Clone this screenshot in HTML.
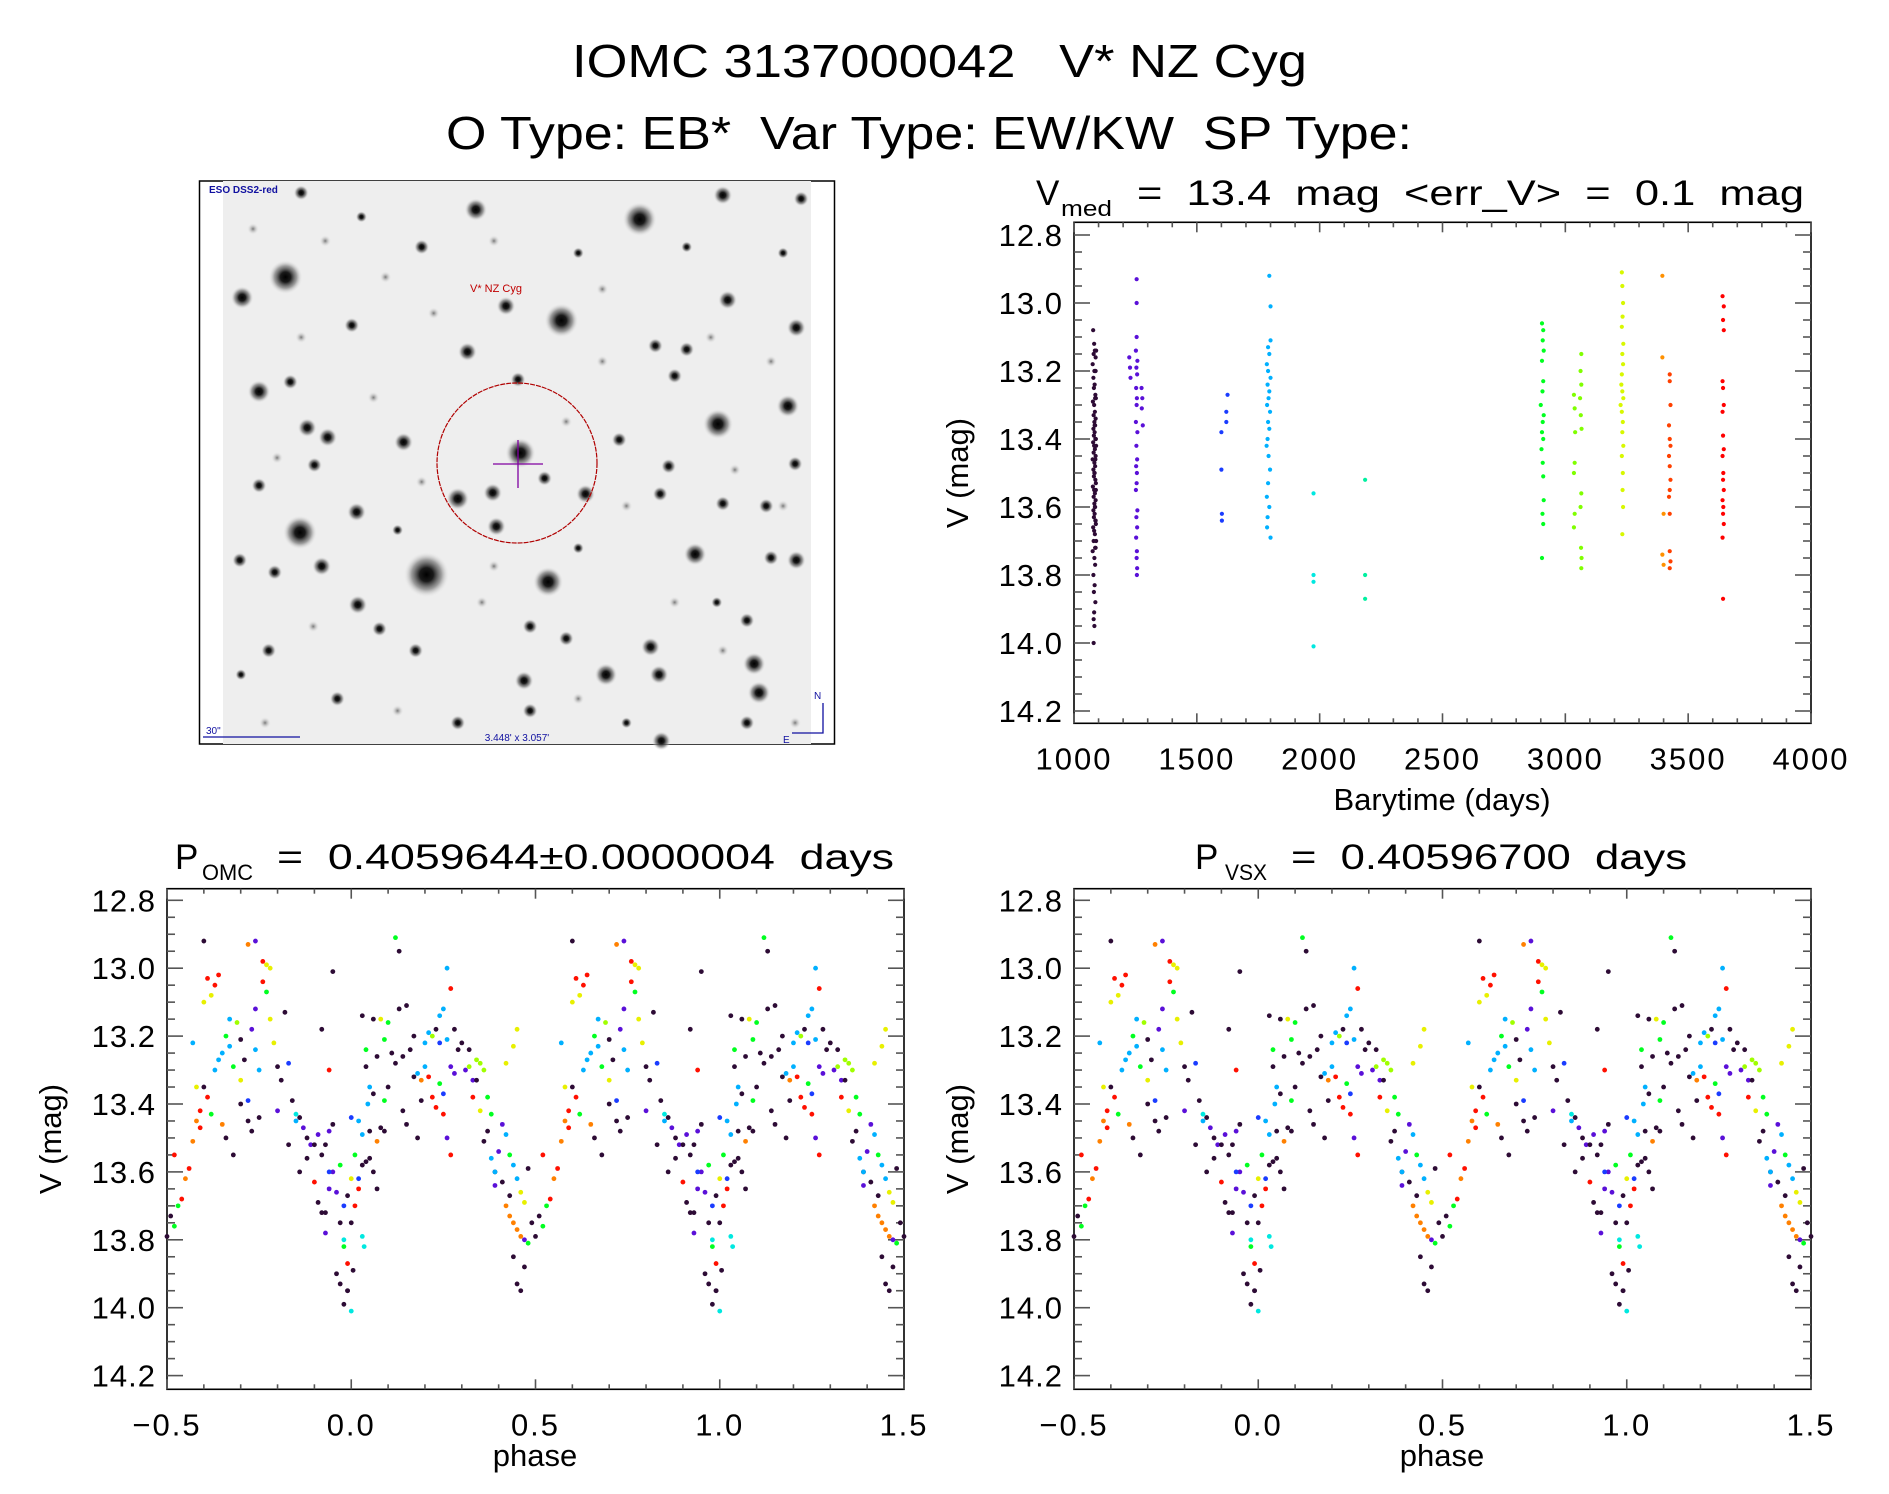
<!DOCTYPE html>
<html><head><meta charset="utf-8"><style>
html,body{margin:0;padding:0;background:#fff;}
svg{display:block;font-family:"Liberation Sans","DejaVu Sans",sans-serif;}
svg text{white-space:pre;}
</style></head><body>
<svg id="fig" width="1889" height="1494" viewBox="0 0 1889 1494" xmlns="http://www.w3.org/2000/svg" xml:space="preserve">
<defs>
<radialGradient id="star"><stop offset="0" stop-color="#000"/><stop offset="0.3" stop-color="#1a1a1a"/><stop offset="0.65" stop-color="#777" stop-opacity="0.7"/><stop offset="1" stop-color="#eee" stop-opacity="0"/></radialGradient>
<radialGradient id="faint"><stop offset="0" stop-color="#777"/><stop offset="1" stop-color="#eee" stop-opacity="0"/></radialGradient>
</defs>
<text x="572" y="77" font-size="46" textLength="735" lengthAdjust="spacingAndGlyphs">IOMC 3137000042   V* NZ Cyg</text>
<text x="446" y="149" font-size="46" textLength="966" lengthAdjust="spacingAndGlyphs">O Type: EB*  Var Type: EW/KW  SP Type:</text>

<g>
<rect x="199.5" y="181" width="635" height="563" fill="#fff" stroke="#000" stroke-width="1.5"/>
<rect x="223" y="181" width="588" height="563" fill="#eeeeee"/>
<g id="stars"></g>
<text x="209" y="193" font-size="10" fill="#1010a0" font-weight="bold">ESO DSS2-red</text>
<text x="470" y="292" font-size="11" fill="#c00000">V* NZ Cyg</text>
<circle cx="517" cy="463" r="80" fill="none" stroke="#b00000" stroke-width="1.2" stroke-dasharray="5,1"/>
<line x1="493" y1="464" x2="543" y2="464" stroke="#8000a0" stroke-width="1.3"/>
<line x1="518" y1="440" x2="518" y2="488" stroke="#8000a0" stroke-width="1.3"/>
<line x1="203" y1="737" x2="300" y2="737" stroke="#1010a0" stroke-width="1.3"/>
<text x="206" y="734" font-size="10" fill="#1010a0">30"</text>
<text x="517" y="741" font-size="10" fill="#1010a0" text-anchor="middle">3.448' x 3.057'</text>
<path d="M823 703 V733 H792" fill="none" stroke="#1010a0" stroke-width="1.3"/>
<text x="814" y="699" font-size="10" fill="#1010a0">N</text>
<text x="783" y="743" font-size="10" fill="#1010a0">E</text>
</g>

<g>
<text x="1036" y="205" font-size="35">V</text>
<text x="1061" y="216" font-size="22" textLength="51" lengthAdjust="spacingAndGlyphs">med</text>
<text x="1137" y="205" font-size="35" textLength="667" lengthAdjust="spacingAndGlyphs">=  13.4  mag  &lt;err_V&gt;  =  0.1  mag</text>
<g id="tsAxes"></g><g id="tsPts"></g>
<text x="1442" y="810" font-size="31" text-anchor="middle">Barytime (days)</text>
<text transform="translate(968,473) rotate(-90)" font-size="31" text-anchor="middle">V (mag)</text>
</g>

<g>
<text x="175" y="869" font-size="35">P</text>
<text x="202" y="880" font-size="22" textLength="51" lengthAdjust="spacingAndGlyphs">OMC</text>
<text x="277" y="869" font-size="35" textLength="617" lengthAdjust="spacingAndGlyphs">=  0.4059644±0.0000004  days</text>
<g id="omcAxes"></g><g id="omcPts"></g>
<text x="535" y="1466" font-size="31" text-anchor="middle">phase</text>
<text transform="translate(61,1139) rotate(-90)" font-size="31" text-anchor="middle">V (mag)</text>
</g>

<g>
<text x="1195" y="869" font-size="35">P</text>
<text x="1225" y="880" font-size="22" textLength="42" lengthAdjust="spacingAndGlyphs">VSX</text>
<text x="1291" y="869" font-size="35" textLength="396" lengthAdjust="spacingAndGlyphs">=  0.40596700  days</text>
<g id="vsxAxes"></g><g id="vsxPts"></g>
<text x="1442" y="1466" font-size="31" text-anchor="middle">phase</text>
<text transform="translate(968,1139) rotate(-90)" font-size="31" text-anchor="middle">V (mag)</text>
</g>
</svg>
<script>
// ---- time series data ----
const tData = [1078,1082,1085,1080,1088,1076,1083,1086,1079,1084,1081,1087,1089,1077,1082,1085,1080,1088,1083,1086,1079,1084,1081,1087,1089,1078,1082,1085,1080,1088,1076,1083,1086,1079,1084,1081,1087,1089,1077,1082,1085,1080,1088,1083,1086,1079,1084,1081,1087,1089,1078,1082,1085,1080,1088,1076,1083,1086,1079,1084,1081,1087,1082,1080,1083,1080,1090,1088,1086,1084,1090,1087,1083,1089,1085,1088,1090,1086,
1225,1228,1230,1255,1255,1255,1252,1258,1254,1257,1253,1256,1255,1252,1258,1254,1257,1253,1256,1255,1252,1258,1254,1257,1253,1256,1255,1257,1256,1275,1278,1276,1280,
1625,1620,1620,1600,1600,1602,1602,
1795,1800,1800,1790,1795,1785,1790,1800,1788,1795,1792,1786,1798,1790,1795,1788,1784,1792,1798,1790,1785,1795,1788,1786,1800,
1975,1975,1975,1975,
2185,2185,2185,
2905,2910,2908,2912,2905,2910,2907,2900,2912,2908,2905,2910,2903,2908,2910,2912,2907,2910,2905,
3035,3038,3040,3038,3035,3038,3035,3065,3062,3065,3060,3063,3066,3065,3062,3064,3066,3065,
3230,3232,3235,3233,3230,3236,3232,3235,3230,3228,3232,3236,3225,3230,3234,3232,3236,3230,3234,3233,3235,3232,
3395,3395,3400,3395,3400,
3425,3425,3428,3422,3425,3428,3422,3425,3428,3425,3422,3425,3425,3428,3425,
3640,3645,3642,3645,3640,3642,3645,3640,3642,3645,3640,3643,3642,3645,3640,3643,3642,3645,3640,3642];
const vData = [13.08,13.12,13.14,13.15,13.16,13.18,13.20,13.20,13.22,13.24,13.25,13.27,13.28,13.29,13.30,13.32,13.33,13.34,13.35,13.36,13.37,13.38,13.39,13.40,13.40,13.41,13.42,13.43,13.44,13.45,13.46,13.47,13.48,13.49,13.50,13.51,13.52,13.53,13.54,13.55,13.56,13.57,13.58,13.59,13.60,13.61,13.62,13.63,13.64,13.65,13.66,13.67,13.68,13.70,13.72,13.73,13.75,13.77,13.80,13.83,13.85,13.88,13.91,13.93,13.95,14.00,13.14,13.20,13.28,13.36,13.42,13.46,13.50,13.55,13.60,13.64,13.70,13.72,
13.16,13.19,13.22,12.93,13.00,13.10,13.14,13.17,13.19,13.21,13.25,13.28,13.30,13.35,13.38,13.42,13.46,13.48,13.50,13.53,13.55,13.61,13.63,13.66,13.69,13.73,13.75,13.78,13.80,13.25,13.28,13.31,13.36,
13.27,13.32,13.35,13.38,13.49,13.62,13.64,
12.92,13.01,13.11,13.13,13.15,13.18,13.20,13.22,13.24,13.26,13.28,13.30,13.32,13.35,13.37,13.40,13.42,13.45,13.49,13.53,13.57,13.60,13.63,13.66,13.69,
13.56,13.80,13.82,14.01,
13.52,13.80,13.87,
13.06,13.08,13.11,13.14,13.17,13.23,13.26,13.30,13.33,13.35,13.38,13.40,13.43,13.47,13.51,13.58,13.62,13.65,13.75,
13.27,13.31,13.38,13.47,13.50,13.62,13.66,13.15,13.20,13.24,13.28,13.33,13.37,13.56,13.60,13.72,13.75,13.78,
12.91,12.95,13.00,13.04,13.07,13.12,13.15,13.18,13.21,13.24,13.26,13.28,13.30,13.32,13.35,13.38,13.42,13.45,13.50,13.55,13.60,13.68,
12.92,13.16,13.62,13.74,13.77,
13.21,13.23,13.30,13.36,13.40,13.42,13.45,13.48,13.52,13.55,13.57,13.62,13.73,13.76,13.78,
12.98,13.01,13.05,13.08,13.23,13.25,13.30,13.32,13.39,13.43,13.45,13.50,13.52,13.55,13.58,13.60,13.62,13.65,13.69,13.87];
const seasonCounts = [78,33,7,25,4,3,19,18,22,5,15,20];
const seasonColors = ['#2d0b35','#5a10d8','#1a3cff','#00b0ff','#00e8e0','#00f0a0','#00ff20','#80ff00','#d8f800','#ff9000','#ff4000','#ff0000'];
const xTickLabels = ['1000','1500','2000','2500','3000','3500','4000'];
const yTickLabels = ['12.8','13.0','13.2','13.4','13.6','13.8','14.0','14.2'];
const phaseTickLabels = ['\u22120.5','0.0','0.5','1.0','1.5'];

// ---- phased data (phase in [0,1), magnitude, colour code) ----
const phaseData = [0.00,0.99,0.005,0.99,0.98,0.98,0.03,0.035,0.0,0.02,0.03,0.04,0.05,0.06,0.07,0.05,0.07,0.08,0.06,0.09,0.04,0.05,0.07,0.09,0.10,0.08,0.04,0.02,0.01,0.0,0.03,0.0,0.045,0.06,0.03,0.10,0.09,0.11,
0.12,0.13,0.14,0.15,0.16,0.17,0.18,0.19,0.17,0.20,0.21,0.22,0.23,0.21,0.22,0.24,0.25,0.24,0.20,0.18,0.19,0.23,0.24,0.25,0.26,0.27,0.26,0.27,0.28,0.25,0.26,0.27,0.28,0.29,0.15,0.14,
0.30,0.31,0.32,0.33,0.34,0.35,0.36,0.37,0.38,0.33,0.35,0.36,0.38,0.39,0.40,0.41,0.42,0.43,0.44,0.45,0.46,0.47,0.48,0.42,0.43,0.44,0.45,0.46,0.47,0.47,0.45,0.46,0.50,0.49,0.51,0.39,0.41,0.43,0.44,0.48,0.42,0.44,0.45,0.39,0.37,0.34,0.32,
0.52,0.53,0.54,0.55,0.56,0.52,0.57,0.58,0.59,0.60,0.61,0.62,0.63,0.64,0.65,0.66,0.67,0.68,0.69,0.70,0.71,0.72,0.73,0.74,0.74,0.75,0.76,0.77,0.78,0.76,0.77,0.78,0.79,0.80,0.81,0.60,0.62,0.63,0.61,0.64,0.59,0.58,0.57,0.65,0.66,0.68,0.70,0.72,0.73,0.75,0.60,0.72,0.74,0.67,0.70,
0.82,0.83,0.84,0.85,0.86,0.87,0.88,0.89,0.90,0.91,0.92,0.93,0.94,0.90,0.91,0.92,0.93,0.94,0.95,0.96,0.97,0.98,0.98,0.96,0.97,0.99,0.93,0.95,0.94,0.95,0.92,0.80,0.83,0.86,0.88,0.99,0.97,0.94,0.85,0.02,0.01,0.12,0.13];
const phaseMag = [14.01,13.87,13.89,13.95,13.99,13.80,13.79,13.82,13.75,13.62,13.58,13.57,13.56,13.60,13.65,13.48,13.51,13.47,13.37,13.39,13.29,13.35,13.26,13.21,13.16,13.15,13.24,13.45,13.55,13.62,13.49,13.44,13.40,13.15,13.14,13.35,13.48,13.25,
13.28,13.12,13.26,13.46,13.24,13.20,13.50,13.33,13.32,13.22,13.19,13.20,13.18,13.32,13.38,13.14,13.12,13.22,13.29,13.31,13.39,13.41,13.34,13.37,13.00,13.06,13.21,13.29,13.31,13.43,13.50,13.55,13.18,13.24,13.11,13.42,
13.22,13.30,13.29,13.33,13.27,13.28,13.30,13.38,13.43,13.38,13.42,13.51,13.56,13.60,13.54,13.46,13.49,13.55,13.58,13.62,13.66,13.69,13.59,13.70,13.73,13.75,13.77,13.79,13.80,13.88,13.93,13.95,13.79,13.75,13.73,13.64,13.63,13.67,13.85,13.81,13.28,13.23,13.18,13.60,13.48,13.33,13.24,
13.76,13.70,13.68,13.62,13.59,13.55,13.51,13.45,13.42,13.35,13.38,13.43,13.30,13.27,13.25,13.20,13.23,13.29,13.16,13.21,13.27,13.39,13.18,13.12,13.24,13.30,12.98,12.99,13.00,13.04,13.07,13.15,13.22,13.29,13.33,13.10,13.08,13.05,13.03,13.02,13.47,13.35,13.22,13.46,13.50,13.55,13.40,13.45,13.48,13.44,12.92,12.93,12.92,13.15,13.33,
13.13,13.28,13.39,13.45,13.44,13.47,13.50,13.52,13.52,13.49,13.55,13.52,13.48,13.63,13.69,13.72,13.78,13.65,13.60,13.66,13.58,13.70,13.82,13.90,13.93,13.95,13.72,13.46,13.30,13.01,13.18,13.42,13.52,13.60,13.56,13.67,13.75,13.60,13.43,13.65,13.70,12.91,12.95];
const phaseCode = 'trkkktttkbkkkkkkokkgkckggygcgycbckkkk'+'k'+
'kkkkkkkokcclkrrccbcckrgbcrcpprprkkkk'+
'kplplllggrykckppcgccyykooooopkkkkkkpkkkgyyyckkk'+
'ggrorroorkrgcccgcglkkbppccryyrgyykkyyrrrrycokkkkkkkopcyk'+
'bkckpkpkpkkprkkppppgbgkkkkkrkkpkkkkkbtrrgkll';
const codeColors = {k:'#2d0b35',p:'#5a10d8',b:'#1a3cff',c:'#00b0ff',t:'#00e8e0',g:'#00ff20',l:'#a0ff00',y:'#e8f000',o:'#ff8000',r:'#ff1000'};

const NS='http://www.w3.org/2000/svg';
function mk(tag, attrs, parent){const e=document.createElementNS(NS,tag);for(const k in attrs)e.setAttribute(k,attrs[k]);parent.appendChild(e);return e;}

function drawAxes(g, L, R, T, B, ymap, xTicks, xMinor, xmap, xLabels){
  const box = mk('rect',{x:L,y:T,width:R-L,height:B-T,fill:'none',stroke:'#000','stroke-width':1.6},g);
  
  
  for(let i=0;i<=28;i++){
    const m=12.8+i*0.05; const y=ymap(m); if(y<T||y>B) continue;
    const len=(i%4===0)?16:8;
    const t1=mk('line',{x1:L,y1:y,x2:L+len,y2:y,stroke:'#555','stroke-width':1.6},g);
    
    
    const t2=mk('line',{x1:R,y1:y,x2:R-len,y2:y,stroke:'#555','stroke-width':1.6},g);
    
    
    if(i%4===0){
      const tx=mk('text',{x:L-11,y:y+11,'font-size':31,'text-anchor':'end','letter-spacing':1},g);
      tx.textContent=yTickLabels[i/4];
      
      
    }
  }
  xMinor.forEach(v=>{
    const x=xmap(v);
    const a=mk('line',{x1:x,y1:B,x2:x,y2:B-5,stroke:'#555','stroke-width':1.6},g);
    
    
    const b=mk('line',{x1:x,y1:T,x2:x,y2:T+5,stroke:'#555','stroke-width':1.6},g);
    
    
  });
  xTicks.forEach((v,i)=>{
    const x=xmap(v);
    const a=mk('line',{x1:x,y1:B,x2:x,y2:B-10,stroke:'#555','stroke-width':1.6},g);
    
    
    const b=mk('line',{x1:x,y1:T,x2:x,y2:T+10,stroke:'#555','stroke-width':1.6},g);
    
    
    const tx=mk('text',{x:x,y:B+46,'font-size':31,'text-anchor':'middle','letter-spacing':2},g);
    tx.textContent=xLabels[i];
    
    
  });
}

// time series
const tsX = v => 1074 + (v-1000)/3000*737;
const tsY = m => 235 + (m-12.8)/0.2*68;
(function(){
  const g=document.getElementById('tsAxes');
  const maj=[1000,1500,2000,2500,3000,3500,4000];
  const minr=[]; for(let v=1100; v<4000; v+=100) if(v%500) minr.push(v);
  drawAxes(g,1074,1811,222.3,723.3,tsY,maj,minr,tsX,xTickLabels);
  const pg=document.getElementById('tsPts');
  let idx=0;
  seasonCounts.forEach((n,s)=>{
    for(let k=0;k<n;k++,idx++){
      const c=mk('circle',{cx:tsX(tData[idx]),cy:tsY(vData[idx]),r:2.1,fill:seasonColors[s]},pg);
      
      
    }
  });
})();

function phasePanel(axesId, ptsId, L){
  const R=L+737, T=888.7, B=1389.3;
  const px = p => L + (p+0.5)/2*737;
  const py = m => 900.3 + (m-12.8)/0.2*67.9;
  const maj=[-0.5,0,0.5,1,1.5];
  const minr=[]; for(let i=-4;i<15;i++){ if(i%5!==0) minr.push(i/10); }
  drawAxes(document.getElementById(axesId),L,R,T,B,py,maj,minr,px,phaseTickLabels);
  const pg=document.getElementById(ptsId);
  for(let i=0;i<phaseData.length;i++){
    const col=codeColors[phaseCode[i]]||'#2d0b35';
    [-1,0,1].forEach(sh=>{
      const p=phaseData[i]+sh; if(p<-0.5||p>1.5) return;
      const c=mk('circle',{cx:px(p),cy:py(phaseMag[i]),r:2.4,fill:col},pg);
      
      
    });
  }
}
phasePanel('omcAxes','omcPts',167);
phasePanel('vsxAxes','vsxPts',1074);

// sky image stars (display positions scaled)
const starList=[[237,230,9],[201,247,6],[466,266,9],[531,182,9],[395,174,6],[215,325,6],[596,352,8],[654,337,6],[661,272,5],[604,249,5],[249,442,9],[354,477,12],[455,483,8],[432,376,8],[380,414,6],[409,409,5],[412,437,5],[486,410,5],[577,460,6],[503,560,6],[626,551,6],[630,575,6],[547,560,5],[540,537,5],[267,470,5],[296,425,5],[297,502,5],[335,367,5],[388,292,5],[430,315,4],[255,355,5],[272,363,5],[600,162,5],[665,165,4],[560,312,4],[570,290,4],[544,287,4],[661,465,5],[640,463,4],[549,615,5],[223,540,4],[199,465,4],[215,403,4],[241,317,4],[292,270,4],[420,254,5],[514,365,4],[548,410,4],[435,565,5],[440,590,4],[470,530,4],[315,522,4],[345,540,4],[228,475,4],[261,386,4],[636,420,4],[600,418,4],[555,387,4],[452,397,4],[660,385,4],[250,160,4],[300,180,3],[350,205,4],[480,210,3],[570,205,3],[650,210,3],[200,560,3],[280,580,4],[380,600,4],[620,600,4],[520,600,3],[330,440,3],[620,515,4],[480,455,3],[440,520,4],[595,500,3]];
const faintList=[[210,190],[270,200],[320,230],[360,260],[410,200],[500,240],[590,280],[640,300],[230,380],[310,330],[350,400],[470,350],[520,420],[610,390],[650,420],[220,600],[260,520],[330,590],[400,500],[480,580],[560,500],[600,540],[660,600],[410,470],[250,280],[500,300]];
(function(){
  const g=document.getElementById('stars');
  faintList.forEach(s=>{
    const c=mk('circle',{cx:s[0]*1.2047,cy:s[1]*1.2047,r:6,fill:'url(#faint)'},g);
    
    
  });
  starList.forEach(s=>{
    const x=s[0]*1.2047, y=s[1]*1.2047; if(x<226||x>808) return;
    const c=mk('circle',{cx:x,cy:y,r:s[2]*1.9,fill:'url(#star)'},g);
    
    
  });
})();
</script>
</body></html>
